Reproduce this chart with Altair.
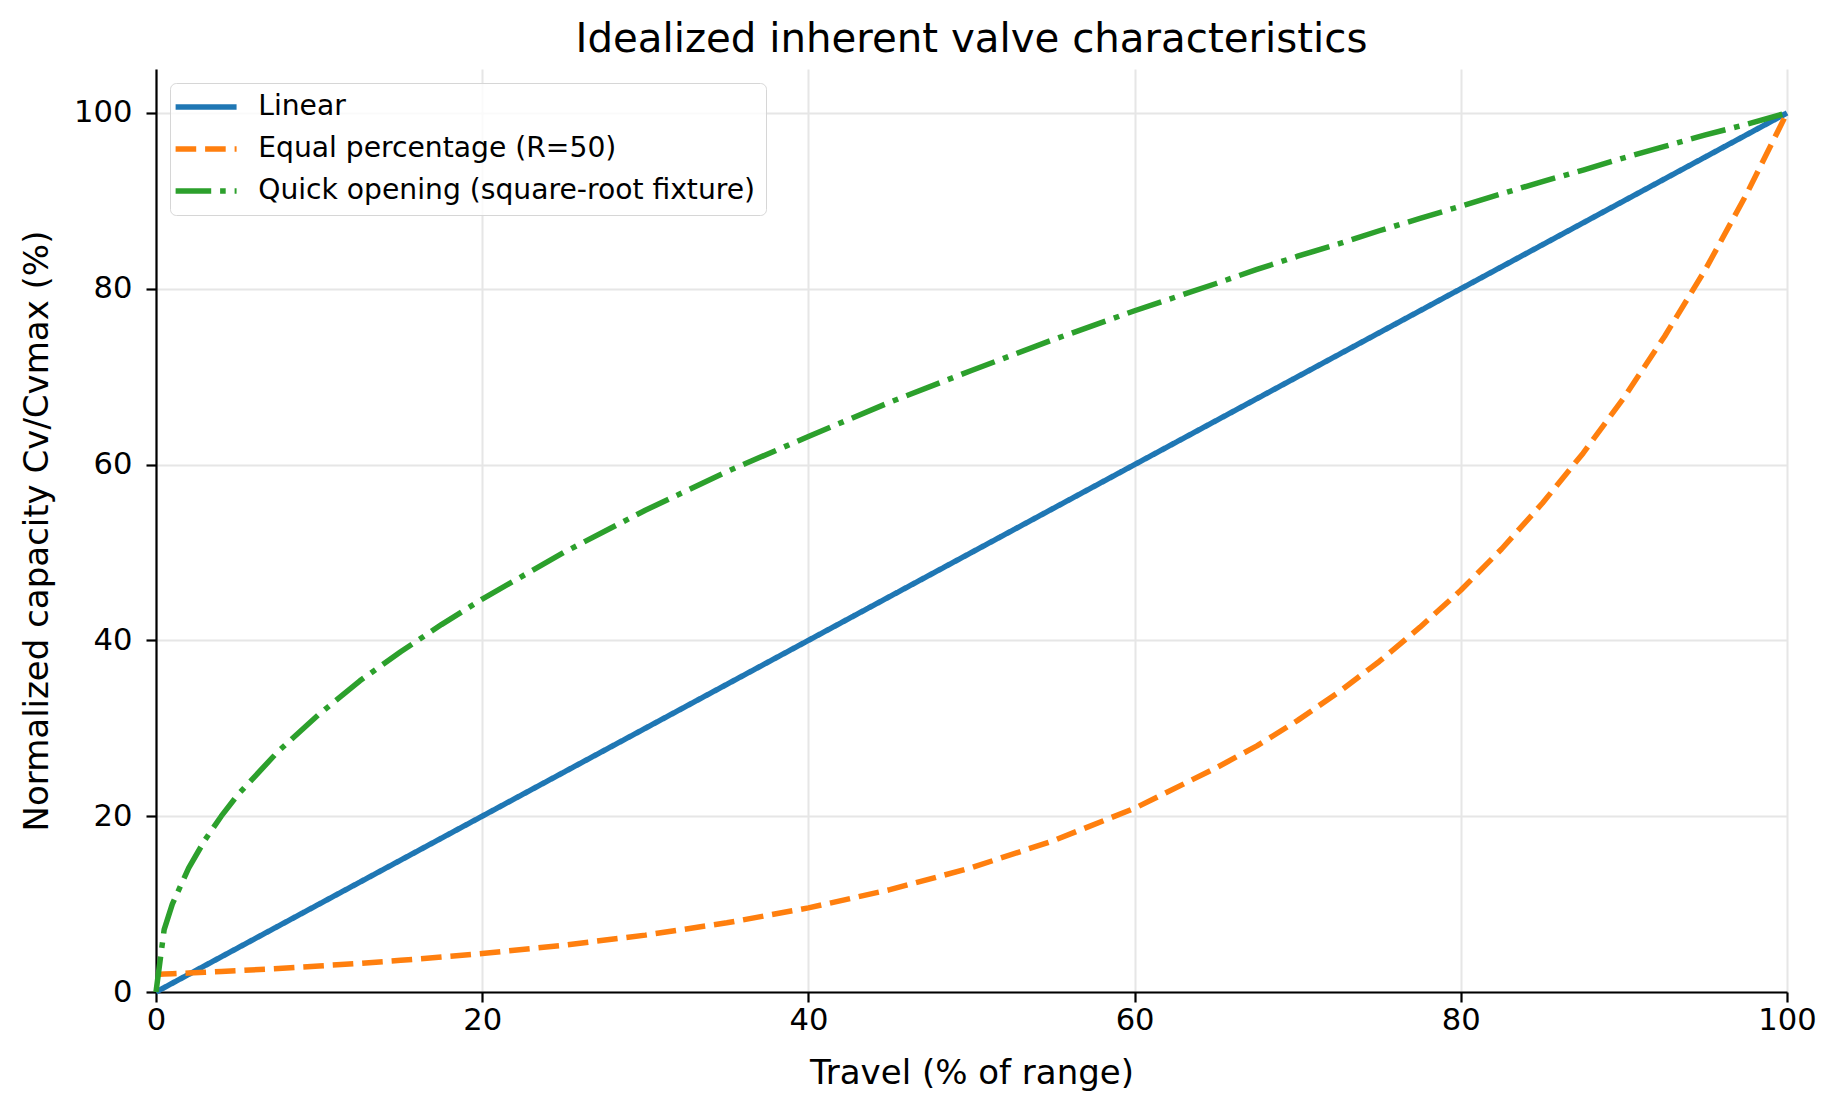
import altair as alt
import pandas as pd

travel = [0, 0.5, 1, 2, 3, 4, 5, 7.5, 10, 12.5, 15, 17.5, 20, 25, 30, 35, 40, 45,
          50, 55, 60, 65, 67.5, 70, 72.5, 75, 77.5, 80, 82.5, 85, 87.5, 90, 92.5,
          95, 97.5, 100]
linear = [0, 0.5, 1, 2, 3, 4, 5, 7.5, 10, 12.5, 15, 17.5, 20, 25, 30, 35, 40, 45,
          50, 55, 60, 65, 67.5, 70, 72.5, 75, 77.5, 80, 82.5, 85, 87.5, 90, 92.5,
          95, 97.5, 100]
equal_pct = [2.00, 2.04, 2.08, 2.16, 2.25, 2.34, 2.43, 2.68, 2.96, 3.26, 3.60, 3.97,
             4.37, 5.32, 6.47, 7.87, 9.57, 11.64, 14.14, 17.2, 20.9, 25.5, 28.0, 30.9,
             34.1, 37.6, 41.5, 45.7, 50.4, 55.6, 61.3, 67.6, 74.6, 82.2, 90.7, 100]
quick = [0, 7.1, 10.0, 14.1, 17.3, 20.0, 22.4, 27.4, 31.6, 35.4, 38.7, 41.8, 44.7,
         50.0, 54.8, 59.2, 63.2, 67.1, 70.7, 74.2, 77.5, 80.6, 82.2, 83.7, 85.1, 86.6,
         88.0, 89.4, 90.8, 92.2, 93.5, 94.9, 96.2, 97.5, 98.7, 100]

series_names = ["Linear", "Equal percentage (R=50)", "Quick opening (square-root fixture)"]
series_colors = ["#1f77b4", "#ff7f0e", "#2ca02c"]
series_dashes = [[1, 0], [20.6, 8.9], [35.6, 8.9, 5.6, 8.9]]
x_ticks = [0, 20, 40, 60, 80, 100]
y_ticks = [0, 20, 40, 60, 80, 100]

rows = []
for name, vals in zip(series_names, [linear, equal_pct, quick]):
    for t, v in zip(travel, vals):
        rows.append({"travel": t, "cv": v, "series": name})
df = pd.DataFrame(rows)

FONT = "DejaVu Sans"

chart = alt.Chart(df).mark_line(strokeWidth=5.5, strokeCap="butt", strokeJoin="round").encode(
    x=alt.X("travel:Q",
            scale=alt.Scale(domain=[0, 100], nice=False, zero=False),
            axis=alt.Axis(values=x_ticks, title="Travel (% of range)", titleY=91,
                          titleBaseline="alphabetic", labelPadding=3, labelFlush=False)),
    y=alt.Y("cv:Q",
            scale=alt.Scale(domain=[0, 105], nice=False, zero=False),
            axis=alt.Axis(values=y_ticks, title="Normalized capacity Cv/Cvmax (%)",
                          titleX=-109, titleBaseline="alphabetic", labelPadding=14,
                          labelFlush=False)),
    color=alt.Color("series:N",
                    scale=alt.Scale(domain=series_names, range=series_colors),
                    legend=alt.Legend(title=None, orient="none", legendX=14, legendY=14)),
    strokeDash=alt.StrokeDash("series:N",
                              scale=alt.Scale(domain=series_names, range=series_dashes),
                              legend=alt.Legend(title=None, orient="none", legendX=14, legendY=14)),
    order=alt.Order("travel:Q"),
).properties(
    width=1631,
    height=923,
    title=alt.TitleParams("Idealized inherent valve characteristics", fontSize=40.3, font=FONT,
                          fontWeight="normal", color="#000000", anchor="middle", frame="group",
                          baseline="alphabetic", offset=16, dy=39),
    autosize=alt.AutoSizeParams(type="none"),
    padding={"left": 148, "top": 61, "right": 46, "bottom": 100},
).configure_view(
    stroke=None
).configure_axis(
    labelFont=FONT, titleFont=FONT, labelFontSize=30.6, titleFontSize=34,
    labelColor="#000000", titleColor="#000000", titleFontWeight="normal",
    domainColor="#000000", domainWidth=2.2, tickColor="#000000", tickWidth=2.2,
    tickSize=10, grid=True, gridColor="#e6e6e6", gridWidth=2,
).configure_legend(
    labelFont=FONT, labelFontSize=28.2, labelColor="#000000",
    symbolType="M-1.82,0H4.18", symbolSize=413, symbolStrokeWidth=5.5,
    labelOffset=50, padding=10, rowPadding=13, strokeColor="#d6d6d6",
    fillColor="rgba(255,255,255,0.8)", cornerRadius=6, labelLimit=800,
)

chart.save("out.html", embed_options={"renderer": "svg", "actions": False})
